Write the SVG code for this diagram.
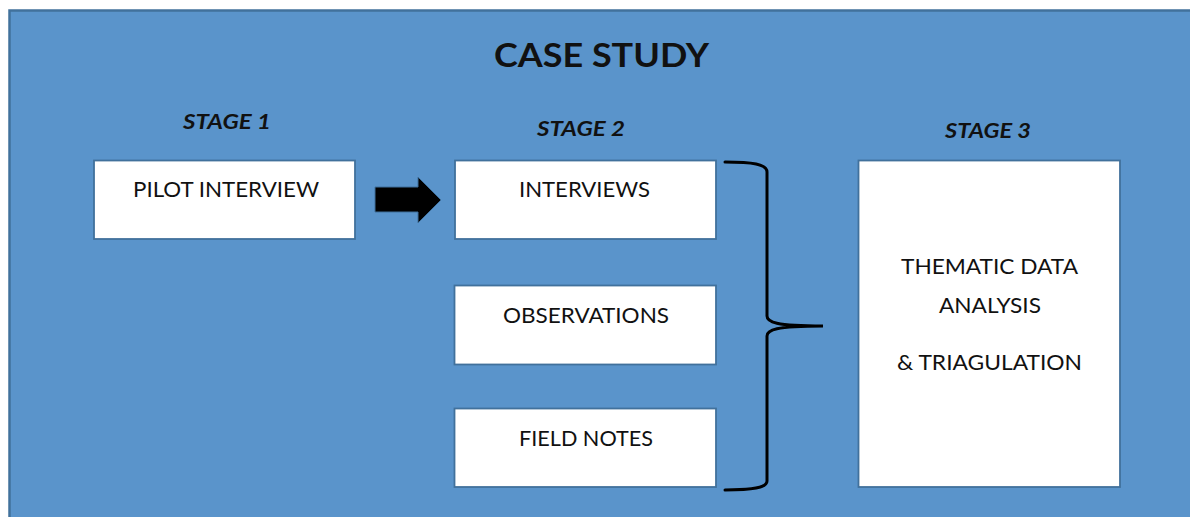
<svg xmlns="http://www.w3.org/2000/svg" width="1190" height="517" viewBox="0 0 1190 517">
<style>
.bg{fill:#5A94CB;stroke:#41719C;stroke-width:2.5}
.box{fill:#FFFFFF;stroke:#41719C;stroke-width:1.8}
.t{font-family:Lato,"Open Sans","Liberation Sans",sans-serif;fill:#111;text-anchor:middle}
.title{font-size:32px;font-weight:bold}
.stage{font-size:21px;font-weight:bold;font-style:italic}
.lbl{font-size:21px}
.brace{fill:none;stroke:#000;stroke-width:3;stroke-linecap:round}
</style>
<rect x="0" y="0" width="1190" height="517" fill="#FFFFFF"/>
<rect class="bg" x="9.5" y="10.5" width="1200" height="520"/>
<text class="t title" x="601.5" y="67" textLength="215" lengthAdjust="spacingAndGlyphs">CASE STUDY</text>
<text class="t stage" x="227" y="129" textLength="88" lengthAdjust="spacingAndGlyphs">STAGE 1</text>
<text class="t stage" x="581" y="136" textLength="88" lengthAdjust="spacingAndGlyphs">STAGE 2</text>
<text class="t stage" x="988" y="138" textLength="86" lengthAdjust="spacingAndGlyphs">STAGE 3</text>
<g id="pilot">
<rect class="box" x="94" y="160.5" width="261" height="78.5"/>
<text class="t lbl" x="226" y="197" textLength="186" lengthAdjust="spacingAndGlyphs">PILOT INTERVIEW</text>
</g>
<g id="interviews">
<rect class="box" x="455" y="160.5" width="261" height="78.5"/>
<text class="t lbl" x="584.5" y="197" textLength="131" lengthAdjust="spacingAndGlyphs">INTERVIEWS</text>
</g>
<g id="observations">
<rect class="box" x="454.5" y="285.5" width="261.5" height="79"/>
<text class="t lbl" x="586" y="323" textLength="166" lengthAdjust="spacingAndGlyphs">OBSERVATIONS</text>
</g>
<g id="fieldnotes">
<rect class="box" x="454.5" y="408.5" width="261.5" height="78.5"/>
<text class="t lbl" x="586" y="446" textLength="134" lengthAdjust="spacingAndGlyphs">FIELD NOTES</text>
</g>
<g id="thematic">
<rect class="box" x="858.5" y="160.5" width="261.5" height="326.5"/>
<text class="t lbl" x="989.5" y="274" textLength="177" lengthAdjust="spacingAndGlyphs">THEMATIC DATA</text>
<text class="t lbl" x="990" y="313" textLength="102" lengthAdjust="spacingAndGlyphs">ANALYSIS</text>
<text class="t lbl" x="989.5" y="370" textLength="185" lengthAdjust="spacingAndGlyphs">&amp; TRIAGULATION</text>
</g>
<g id="connectors">
<polygon points="375,187 418,187 418,177 441,200 418,223 418,212 375,212" fill="#000" stroke="#3E6E9A" stroke-width="1"/>
<path class="brace" d="M725,162 C752,162 767,164 767,172 L767,316 C767,322 775,326 823,326 C775,326 767,330 767,336 L767,481 C767,488 752,490 725,490"/>
</g>
</svg>
